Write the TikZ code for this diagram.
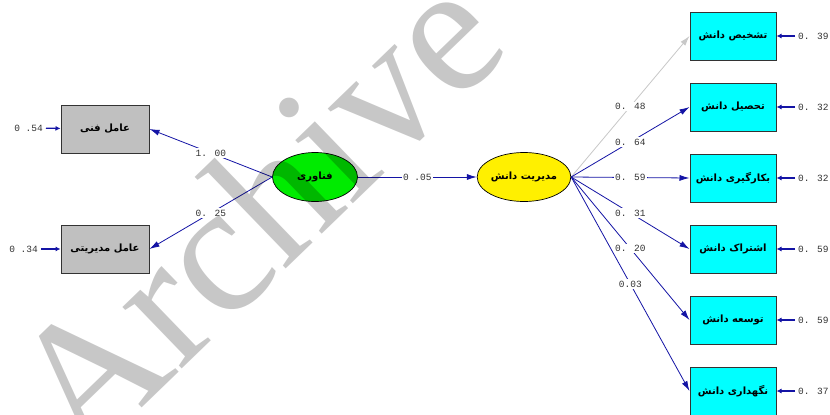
\documentclass[tikz,border=0pt]{standalone}
\usepackage{fontspec}
\usetikzlibrary{arrows.meta,shapes.geometric}
\TeXXeTstate=1
\newfontfamily\arabicfont[Script=Arabic]{DejaVu Sans}
\newfontfamily\monofont{Liberation Mono}
\newfontfamily\wmfont{Liberation Serif}
\definecolor{pathblue}{RGB}{20,20,165}
\definecolor{boxgray}{RGB}{192,192,192}
\definecolor{boxcyan}{RGB}{0,255,255}
\definecolor{latgreen}{RGB}{0,235,0}
\definecolor{latyellow}{RGB}{255,240,0}
\definecolor{nsgray}{RGB}{200,200,200}
\begin{document}
\begin{tikzpicture}[x=1pt,y=-1pt,
  obsbase/.style={draw=black!80, line width=1pt, inner sep=0pt,
    font=\arabicfont\bfseries\fontsize{10}{11}\selectfont},
  obsL/.style={obsbase, fill=boxgray, minimum width=88pt, minimum height=48pt},
  obsR/.style={obsbase, fill=boxcyan, minimum width=86pt, minimum height=48pt},
  lat/.style={ellipse, draw=black, line width=0.7pt, minimum width=85pt, minimum height=49pt,
    inner sep=0pt, font=\arabicfont\bfseries\fontsize{10}{11}\selectfont},
  lbl/.style={font=\monofont\fontsize{9.5}{10}\selectfont, fill=white, inner sep=1.5pt, text=black!80},
  errlbl/.style={font=\monofont\fontsize{9.5}{10}\selectfont, inner sep=0pt, text=black!80},
  pth/.style={draw=pathblue, line width=0.8pt, -{Latex[length=10pt,width=6pt]}},
  nspth/.style={draw=nsgray, line width=0.8pt, -{Latex[length=10pt,width=6pt]}},
  errarr/.style={draw=pathblue, line width=1.3pt, -{Latex[length=5pt,width=5pt]}, shorten <=3pt}
]
\useasboundingbox (0,0) rectangle (830,415);
\fill[white] (0,0) rectangle (830,415);

% latent variables
\node[lat, fill=latgreen] (g) at (315,177) {\beginR فناوری\endR};
\node[lat, fill=latyellow] (y) at (524,177) {\beginR مدیریت دانش\endR};

% left observed
\node[obsL] (l1) at (105,129) {\beginR عامل فنی\endR};
\node[obsL] (l2) at (105,249) {\beginR عامل مدیریتی\endR};

% right observed
\node[obsR] (r1) at (733,36)  {\beginR تشخیص دانش\endR};
\node[obsR] (r2) at (733,107) {\beginR تحصیل دانش\endR};
\node[obsR] (r3) at (733,178) {\beginR بکارگیری دانش\endR};
\node[obsR] (r4) at (733,249) {\beginR اشتراک دانش\endR};
\node[obsR] (r5) at (733,320) {\beginR توسعه دانش\endR};
\node[obsR] (r6) at (733,391) {\beginR نگهداری دانش\endR};

% error labels
\node[errlbl, anchor=east] (e1) at (43,128) {0 .54};
\node[errlbl, anchor=east] (e2) at (38,249) {0 .34};
\node[errlbl, anchor=west] (f1) at (798,36)  {0. 39};
\node[errlbl, anchor=west] (f2) at (798,107) {0. 32};
\node[errlbl, anchor=west] (f3) at (798,178) {0. 32};
\node[errlbl, anchor=west] (f4) at (798,249) {0. 59};
\node[errlbl, anchor=west] (f5) at (798,320) {0. 59};
\node[errlbl, anchor=west] (f6) at (798,391) {0. 37};

\draw[errarr] (e1) -- (l1);
\draw[errarr] (e2) -- (l2);
\draw[errarr] (f1) -- (r1);
\draw[errarr] (f2) -- (r2);
\draw[errarr] (f3) -- (r3);
\draw[errarr] (f4) -- (r4);
\draw[errarr] (f5) -- (r5);
\draw[errarr] (f6) -- (r6);

% structural paths
\draw[pth] (g.west) -- node[lbl] {1. 00} (l1.east);
\draw[pth] (g.west) -- node[lbl] {0. 25} (l2.east);
\draw[pth] (g.east) -- node[lbl] {0 .05} (y.west);

\draw[nspth] (y.east) -- node[lbl] {0. 48} (r1.west);
\draw[pth] (y.east) -- node[lbl] {0. 64} (r2.west);
\draw[pth] (y.east) -- node[lbl] {0. 59} (r3.west);
\draw[pth] (y.east) -- node[lbl] {0. 31} (r4.west);
\draw[pth] (y.east) -- node[lbl] {0. 20} (r5.west);
\draw[pth] (y.east) -- node[lbl] {0.03} (r6.west);

% watermark
\begin{scope}
\clip (0,0) rectangle (830,415);
\node[rotate=44, anchor=base west, inner sep=0pt, text=black, text opacity=0.22,
  font=\wmfont\fontsize{186}{186}\selectfont] (wm) at (83,465) {Archive};
\end{scope}
\end{tikzpicture}
\end{document}
